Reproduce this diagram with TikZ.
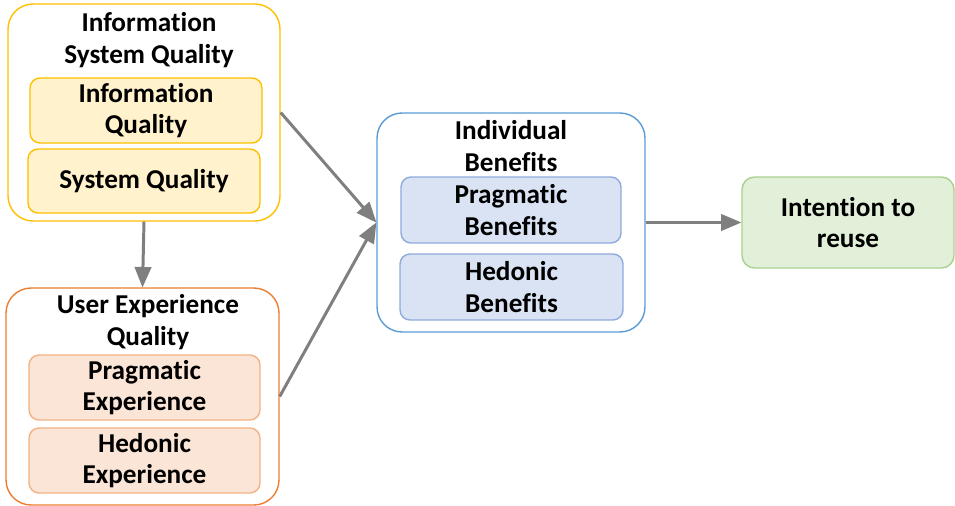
\documentclass[tikz,border=0pt]{standalone}
\usepackage{fontspec}
\setmainfont{Carlito}[Ligatures={NoCommon}]
\usepackage{tikz}
\usetikzlibrary{arrows}

\definecolor{isqline}{HTML}{FFC000}
\definecolor{isqfill}{HTML}{FFF2CC}
\definecolor{uxqline}{HTML}{ED7D31}
\definecolor{uxqinner}{HTML}{F4B183}
\definecolor{uxqfill}{HTML}{FBE5D6}
\definecolor{ibline}{HTML}{5B9BD5}
\definecolor{ibinner}{HTML}{8FAADC}
\definecolor{ibfill}{HTML}{DAE3F3}
\definecolor{irline}{HTML}{A9D18E}
\definecolor{irfill}{HTML}{E2F0D9}
\definecolor{arrowgray}{HTML}{7F7F7F}

\begin{document}
\begin{tikzpicture}[x=0.02cm, y=-0.02cm,
				   every node/.style={align=center, font=\fontsize{15.5}{18}\selectfont\bfseries, inner sep=0pt},
				   outer/.style={draw, line width=0.8pt, fill=white, rounded corners=0.5cm},
				   inner/.style={draw, line width=0.8pt, rounded corners=0.2cm, minimum height=1.3cm},
				   link/.style={-triangle 45, arrowgray, line width=1.7pt}]
\useasboundingbox (0,0) rectangle (955,506);
\node[outer, draw=isqline, minimum width=5.44cm, minimum height=4.34cm] (ISQ) at (144,112.5) {};
\node (ISQtitle) at (149,40) {Information\\System Quality};
\node[inner, draw=isqline, fill=isqfill, minimum width=4.64cm] (IQ) at (146,110.5) {Information\\Quality};
\node[inner, draw=isqline, fill=isqfill, minimum width=4.64cm, minimum height=1.28cm] (SQ) at (144,181) {System Quality};

\node[outer, draw=uxqline, minimum width=5.46cm, minimum height=4.34cm] (UXQ) at (142.5,396.5) {};
\node (UXQtitle) at (148,322) {User Experience\\Quality};
\node[inner, draw=uxqinner, fill=uxqfill, minimum width=4.62cm] (PE) at (144.5,387.5) {Pragmatic\\Experience};
\node[inner, draw=uxqinner, fill=uxqfill, minimum width=4.62cm] (HE) at (144.5,460.5) {Hedonic\\Experience};

\node[outer, draw=ibline, minimum width=5.36cm, minimum height=4.38cm] (IB) at (511,222.5) {};
\node (IBtitle) at (511,146) {Individual\\Benefits};
\node[inner, draw=ibinner, fill=ibfill, minimum width=4.4cm, minimum height=1.32cm] (PB) at (511,210) {Pragmatic\\Benefits};
\node[inner, draw=ibinner, fill=ibfill, minimum width=4.46cm, minimum height=1.32cm] (HB) at (511.5,287) {Hedonic\\Benefits};

\node[inner, draw=irline, fill=irfill, rounded corners=0.25cm, minimum width=4.24cm, minimum height=1.82cm] (IR) at (848,222.5) {Intention to\\reuse};

\draw[link] (ISQ.east) -- (IB.west);
\draw[link] (UXQ.east) -- (IB.west);
\draw[link] (ISQ.south) -- (UXQ.north);
\draw[link] (IB.east) -- (IR.west);
\end{tikzpicture}
\end{document}
